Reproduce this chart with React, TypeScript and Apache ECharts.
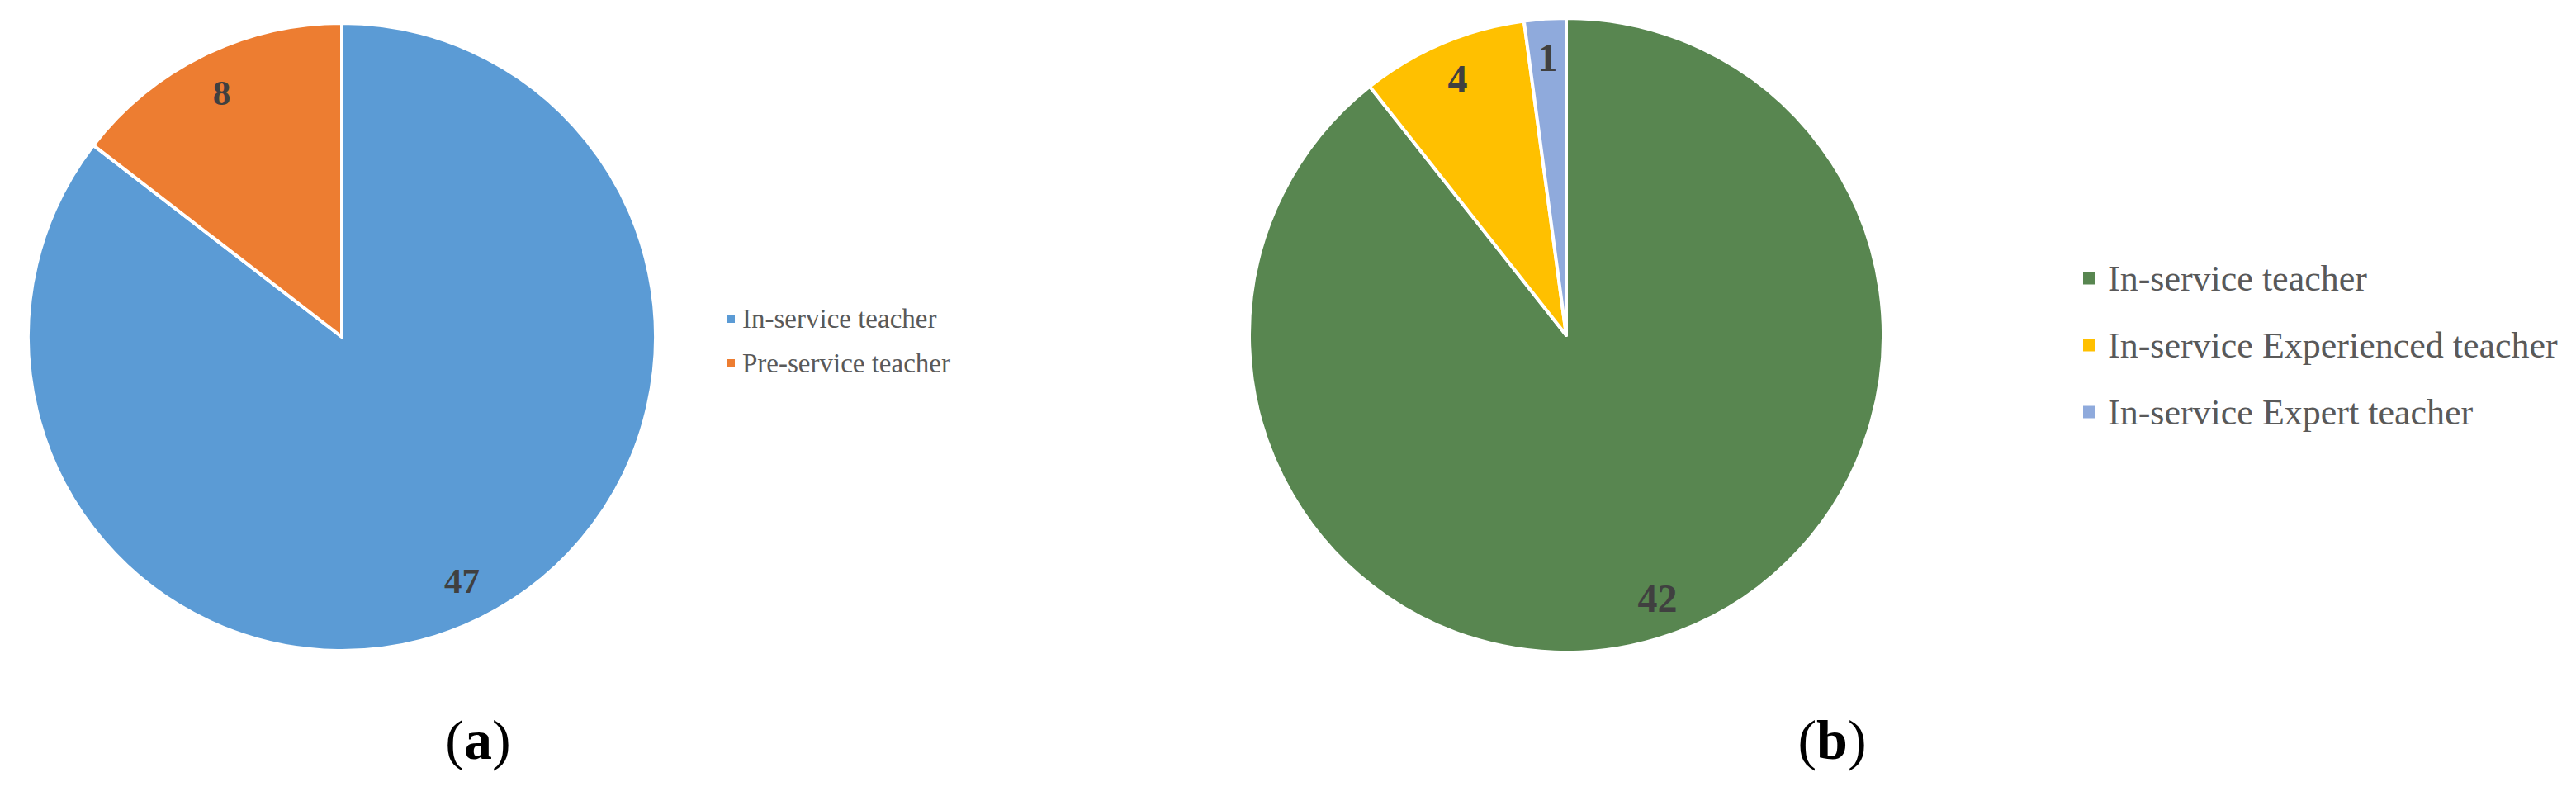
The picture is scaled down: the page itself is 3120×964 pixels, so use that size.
import React, { useEffect, useRef } from "react";
import * as echarts from "echarts";

const catsA = ["In-service teacher", "Pre-service teacher"];
const valsA = [47, 8];
const colorsA = ["#5B9BD5", "#ED7D31"];

const catsB = ["In-service teacher", "In-service Experienced teacher", "In-service Expert teacher"];
const valsB = [42, 4, 1];
const colorsB = ["#588650", "#FFC000", "#8FAADC"];

const captions = ["a", "b"];

const SERIF = "'Liberation Serif', 'Times New Roman', serif";

export default function App() {
  const ref = useRef<HTMLDivElement>(null);
  useEffect(() => {
    document.body.style.margin = "0";
    const chart = echarts.init(ref.current!, null, { renderer: "svg" });
    const rA = 380;
    const rB = 384;
    const cA = [414, 408];
    const cB = [1897, 406];
    const mk = (cats: string[], vals: number[], colors: string[]) =>
      cats.map((n, i) => ({ name: n, value: vals[i], itemStyle: { color: colors[i] } }));
    const option: any = {
      animation: false,
      backgroundColor: "#ffffff",
      legend: [
        {
          orient: "vertical",
          left: 873,
          top: 363,
          itemWidth: 12,
          itemHeight: 12,
          itemGap: 18,
          icon: "rect",
          selectedMode: false,
          textStyle: { fontFamily: SERIF, fontSize: 33, lineHeight: 36, color: "#595959", padding: [0, 0, 0, 3] },
          data: catsA.map((n, i) => ({ name: n, itemStyle: { color: colorsA[i] } })),
        },
        {
          orient: "vertical",
          left: 2516,
          top: 307,
          itemWidth: 17,
          itemHeight: 17,
          itemGap: 31,
          icon: "rect",
          selectedMode: false,
          textStyle: { fontFamily: SERIF, fontSize: 44, lineHeight: 50, color: "#595959", padding: [0, 0, 0, 9] },
          data: catsB.map((n, i) => ({ name: n, itemStyle: { color: colorsB[i] } })),
        },
      ],
      series: [
        {
          type: "pie",
          center: cA,
          radius: [0, rA],
          startAngle: 90,
          clockwise: true,
          label: { show: false },
          labelLine: { show: false },
          itemStyle: { borderColor: "#ffffff", borderWidth: 4 },
          emphasis: { disabled: true },
          data: mk(catsA, valsA, colorsA),
        },
        {
          type: "pie",
          center: cA,
          radius: [rA * 0.72, rA],
          startAngle: 90,
          clockwise: true,
          silent: true,
          label: {
            show: true,
            position: "inside",
            formatter: "{c}",
            fontFamily: SERIF,
            fontSize: 43,
            fontWeight: "bold",
            color: "#404040",
          },
          labelLine: { show: false },
          itemStyle: { color: "transparent", borderWidth: 0 },
          emphasis: { disabled: true },
          data: catsA.map((n, i) => ({ name: n, value: valsA[i], itemStyle: { color: "transparent" } })),
        },
        {
          type: "pie",
          center: cB,
          radius: [0, rB],
          startAngle: 90,
          clockwise: true,
          label: { show: false },
          labelLine: { show: false },
          itemStyle: { borderColor: "#ffffff", borderWidth: 4 },
          emphasis: { disabled: true },
          data: mk(catsB, valsB, colorsB),
        },
        {
          type: "pie",
          center: cB,
          radius: [rB * 0.74, rB],
          startAngle: 90,
          clockwise: true,
          silent: true,
          label: {
            show: true,
            position: "inside",
            formatter: "{c}",
            fontFamily: SERIF,
            fontSize: 48,
            fontWeight: "bold",
            color: "#404040",
          },
          labelLine: { show: false },
          itemStyle: { color: "transparent", borderWidth: 0 },
          emphasis: { disabled: true },
          data: catsB.map((n, i) => ({ name: n, value: valsB[i], itemStyle: { color: "transparent" } })),
        },
      ],
      graphic: captions.map((c, i) => ({
        type: "text",
        x: i === 0 ? 579 : 2219,
        y: 896,
        style: {
          text: `{p|(}{b|${c}}{p|)}`,
          align: "center",
          verticalAlign: "middle",
          rich: {
            p: { fontFamily: SERIF, fontSize: 68, color: "#000000" },
            b: { fontFamily: SERIF, fontSize: 68, fontWeight: "bold", color: "#000000" },
          },
        },
      })),
    };
    chart.setOption(option);
    return () => chart.dispose();
  }, []);
  return <div ref={ref} style={{ width: 3120, height: 964 }} />;
}
